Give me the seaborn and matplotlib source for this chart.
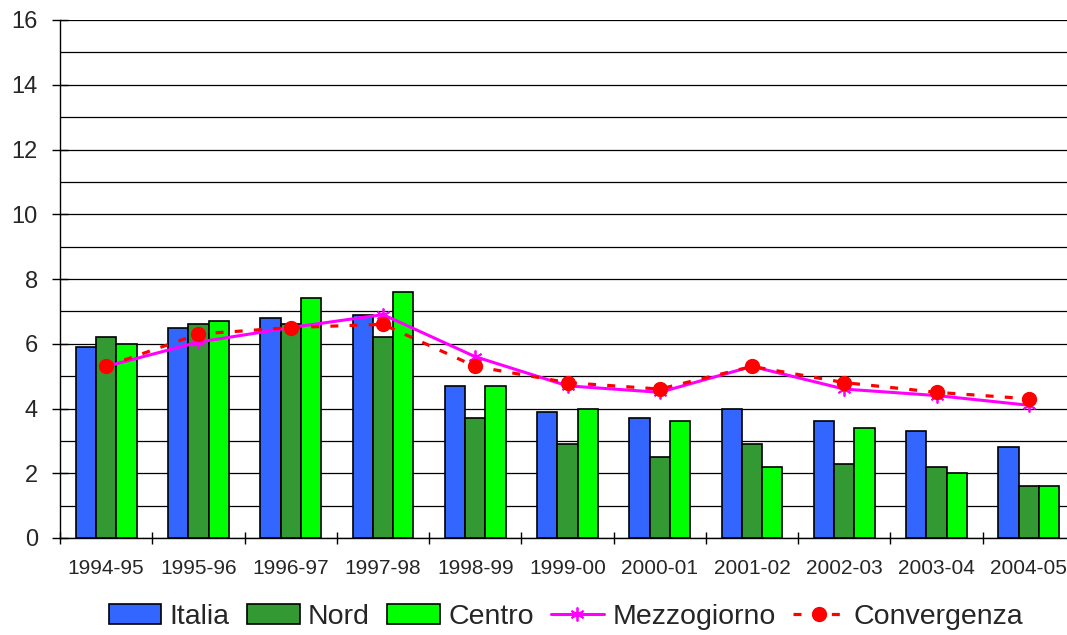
import numpy as np
import pandas as pd
import seaborn as sns
import matplotlib.pyplot as plt
from matplotlib.ticker import MultipleLocator, FixedLocator
from matplotlib.patches import Patch

anni = ['1994-95', '1995-96', '1996-97', '1997-98', '1998-99', '1999-00',
        '2000-01', '2001-02', '2002-03', '2003-04', '2004-05']
italia = [5.9, 6.5, 6.8, 6.9, 4.7, 3.9, 3.7, 4.0, 3.6, 3.3, 2.8]
nord = [6.2, 6.6, 6.6, 6.2, 3.7, 2.9, 2.5, 2.9, 2.3, 2.2, 1.6]
centro = [6.0, 6.7, 7.4, 7.6, 4.7, 4.0, 3.6, 2.2, 3.4, 2.0, 1.6]
mezzogiorno = [5.3, 6.05, 6.5, 6.9, 5.6, 4.7, 4.5, 5.3, 4.6, 4.4, 4.1]
convergenza = [5.3, 6.3, 6.5, 6.6, 5.3, 4.8, 4.6, 5.3, 4.8, 4.5, 4.3]

sns.set_style("white")
plt.rcParams['font.family'] = ['Liberation Sans', 'DejaVu Sans']

# long format for the grouped bars
bars_df = pd.DataFrame({
    'anno': anni * 3,
    'valore': italia + nord + centro,
    'serie': ['Italia'] * len(anni) + ['Nord'] * len(anni) + ['Centro'] * len(anni),
})
palette = {'Italia': '#3366FF', 'Nord': '#339933', 'Centro': '#00FF00'}

fig = plt.figure(figsize=(10.67, 6.35), dpi=100)
ax = fig.add_axes([60 / 1067, 1 - 538 / 635, 1015 / 1067, 518 / 635])

sns.barplot(data=bars_df, x='anno', y='valore', hue='serie', palette=palette,
            width=0.66, edgecolor='black', linewidth=1.2, saturation=1,
            ax=ax, zorder=3, legend=False)

xpos = np.arange(len(anni))
ax.plot(xpos, mezzogiorno, color='#FF00FF', lw=2.2, marker=(6, 2, 0),
        markersize=10, markeredgewidth=1.3, label='Mezzogiorno', zorder=4)
ax.plot(xpos, convergenza, color='#FF0000', lw=2.3, linestyle=(0, (2.5, 3.5)),
        marker='o', markersize=10, label='Convergenza', zorder=5)

ax.set_xlim(-0.5, len(anni) - 0.5)
ax.set_ylim(0, 16)
ax.yaxis.set_major_locator(MultipleLocator(2))
ax.yaxis.set_minor_locator(MultipleLocator(1))
ax.xaxis.set_minor_locator(FixedLocator(np.arange(-0.5, len(anni), 1)))
ax.set_xticks(xpos)
ax.set_xticklabels(anni)

ax.grid(True, axis='y', which='both', color='black', lw=0.9, zorder=0)
ax.set_axisbelow(True)
ax.get_ygridlines()[-1].set_color('#dddddd')

ax.tick_params(left=True, bottom=True, which='both', color='black')
ax.tick_params(axis='y', which='major', direction='inout', length=12, width=1,
               labelsize=17, pad=10)
ax.tick_params(axis='y', which='minor', length=0)
ax.tick_params(axis='x', which='major', length=0, labelsize=15, pad=15)
ax.tick_params(axis='x', which='minor', direction='inout', length=9, width=1)

for s in ['top', 'right']:
    ax.spines[s].set_visible(False)
for s in ['left', 'bottom']:
    ax.spines[s].set_color('black')
    ax.spines[s].set_linewidth(1)
ax.set_xlabel('')
ax.set_ylabel('')

handles = [Patch(facecolor=palette[k], edgecolor='black', lw=1.2, label=k)
           for k in ['Italia', 'Nord', 'Centro']]
handles += ax.get_legend_handles_labels()[0]
fig.legend(handles=handles, loc='center', bbox_to_anchor=(566 / 1067, 1 - 617 / 635),
           ncol=5, frameon=False, fontsize=20.5, handlelength=1.85, handleheight=0.72,
           handletextpad=0.3, columnspacing=0.6, borderaxespad=0)

plt.savefig('out.png', dpi=100)
